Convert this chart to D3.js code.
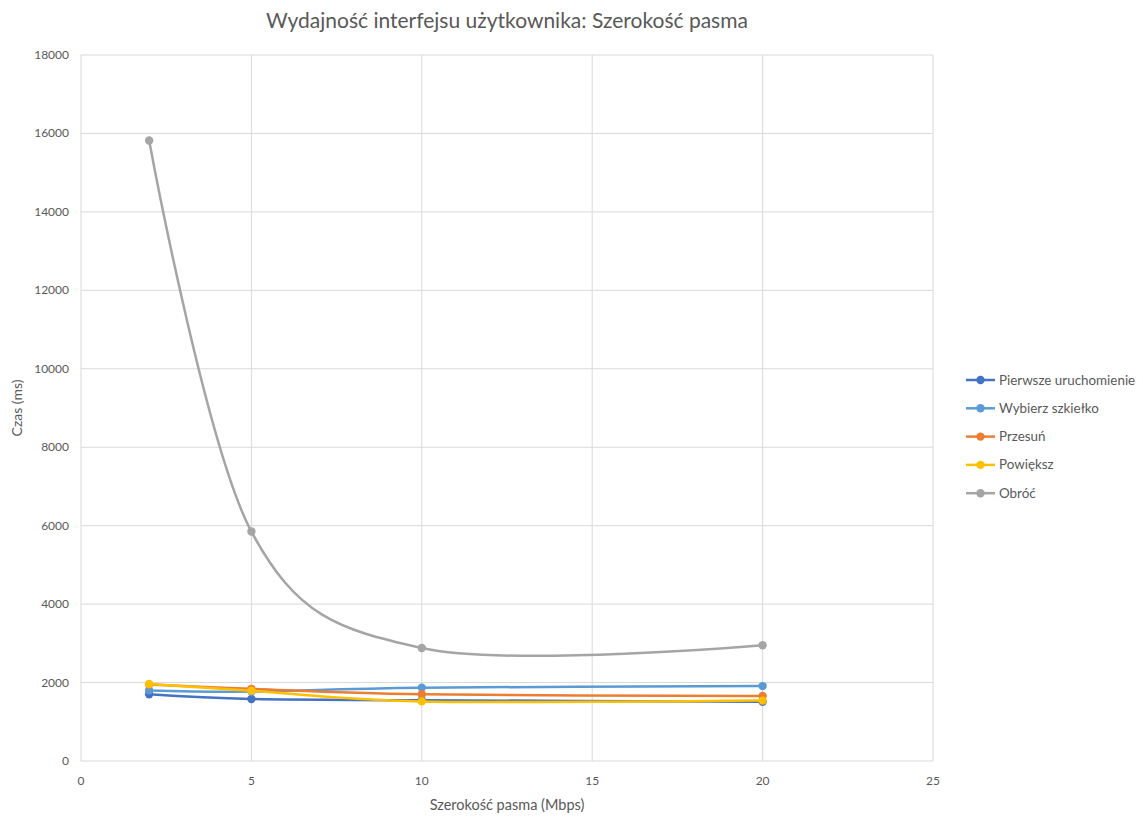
<!DOCTYPE html>
<html lang="en">
<head>
  <meta charset="UTF-8">
  <title>Wydajność interfejsu</title>
  <script src="https://cdn.jsdelivr.net/npm/d3@7/dist/d3.min.js"></script>
  <style>
    body { margin: 0; background: #fff; font-family: Lato, "Open Sans", sans-serif; }
    .tick-label { fill: #595959; font-size: 12px; }
    .grid line { stroke: #d9d9d9; stroke-width: 1; }
  </style>
</head>
<body>
  <script>
    // data
    const bandwidth = [2, 5, 10, 20];
    const seriesNames = ["Pierwsze uruchomienie", "Wybierz szkiełko", "Przesuń", "Powiększ", "Obróć"];
    const firstLaunch = [1700, 1580, 1550, 1510];
    const selectSlide = [1800, 1770, 1870, 1910];
    const pan = [1950, 1840, 1700, 1660];
    const zoomIn = [1965, 1790, 1520, 1540];
    const rotate = [15820, 5850, 2880, 2950];
    const colors = ["#4472C4", "#5B9BD5", "#ED7D31", "#FFC000", "#A5A5A5"];
    const xTicks = [0, 5, 10, 15, 20, 25];
    const yTicks = [0, 2000, 4000, 6000, 8000, 10000, 12000, 14000, 16000, 18000];

    const allSeries = [firstLaunch, selectSlide, pan, zoomIn, rotate];

    const W = 1143, H = 817;
    const plotL = 81, plotR = 933, plotT = 55, plotB = 761;

    const svg = d3.select("body").append("svg").attr("width", W).attr("height", H);

    const x = d3.scaleLinear().domain([0, 25]).range([plotL, plotR]);
    const y = d3.scaleLinear().domain([0, 18000]).range([plotB, plotT]);

    // gridlines
    const grid = svg.append("g").attr("class", "grid");
    grid.selectAll(".h").data(yTicks).enter().append("line")
      .attr("x1", plotL).attr("x2", plotR)
      .attr("y1", d => y(d)).attr("y2", d => y(d));
    grid.selectAll(".v").data(xTicks).enter().append("line")
      .attr("x1", d => x(d)).attr("x2", d => x(d))
      .attr("y1", plotT).attr("y2", plotB);

    // tick labels
    svg.selectAll(".yl").data(yTicks).enter().append("text")
      .attr("class", "tick-label")
      .attr("x", plotL - 12).attr("y", d => y(d) + 4)
      .attr("text-anchor", "end")
      .text(d => d);
    svg.selectAll(".xl").data(xTicks).enter().append("text")
      .attr("class", "tick-label")
      .attr("x", d => x(d)).attr("y", plotB + 24)
      .attr("text-anchor", "middle")
      .text(d => d);

    // lines
    const line = d3.line()
      .x((d, i) => x(bandwidth[i]))
      .y(d => y(d))
      .curve(d3.curveCatmullRom.alpha(0));

    allSeries.forEach((s, k) => {
      const g = svg.append("g");
      g.append("path")
        .attr("d", line(s))
        .attr("fill", "none")
        .attr("stroke", colors[k])
        .attr("stroke-width", 2.5)
        .attr("stroke-linecap", "round");
      g.selectAll("circle").data(s).enter().append("circle")
        .attr("cx", (d, i) => x(bandwidth[i]))
        .attr("cy", d => y(d))
        .attr("r", 4.2)
        .attr("fill", colors[k]);
    });

    // title
    svg.append("text")
      .attr("x", 507).attr("y", 28)
      .attr("text-anchor", "middle")
      .attr("fill", "#595959")
      .style("font-size", "21px")
      .text("Wydajność interfejsu użytkownika: Szerokość pasma");

    // axis titles
    svg.append("text")
      .attr("x", 507).attr("y", 810)
      .attr("text-anchor", "middle")
      .attr("fill", "#595959")
      .style("font-size", "14.5px")
      .text("Szerokość pasma (Mbps)");
    svg.append("text")
      .attr("transform", "translate(22," + (plotT + plotB) / 2 + ") rotate(-90)")
      .attr("text-anchor", "middle")
      .attr("fill", "#595959")
      .style("font-size", "14px")
      .text("Czas (ms)");

    // legend
    const legend = svg.selectAll(".lg").data(seriesNames).enter().append("g")
      .attr("transform", (d, i) => "translate(966," + (380 + i * 28.3) + ")");
    legend.append("line")
      .attr("x1", 0).attr("x2", 29).attr("y1", 0).attr("y2", 0)
      .attr("stroke", (d, i) => colors[i]).attr("stroke-width", 2.5);
    legend.append("circle")
      .attr("cx", 14.5).attr("cy", 0).attr("r", 4.2)
      .attr("fill", (d, i) => colors[i]);
    legend.append("text")
      .attr("x", 33).attr("y", 4.5)
      .attr("fill", "#595959")
      .style("font-size", "13.4px")
      .text(d => d);
  </script>
</body>
</html>
